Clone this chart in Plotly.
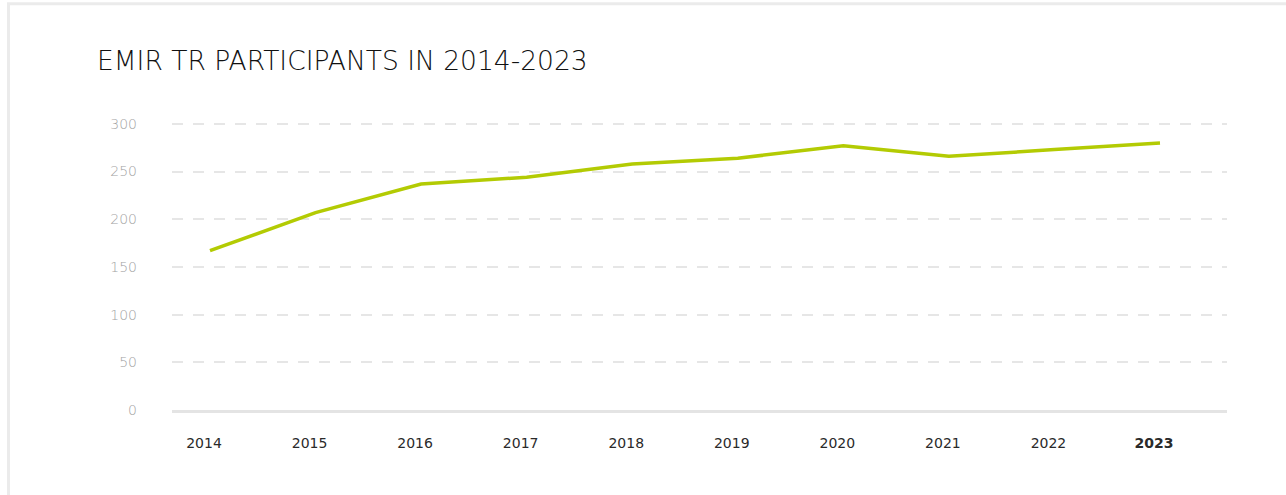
"""
EMIR TR 参与者数量折线图（2014-2023）
"""

import plotly.graph_objects as go

# 数据
years = [2014, 2015, 2016, 2017, 2018, 2019, 2020, 2021, 2022, 2023]
participants = [167, 207, 237, 244, 258, 264, 277, 266, 273, 280]
year_labels = ["2014", "2015", "2016", "2017", "2018", "2019", "2020", "2021", "2022", "<b>2023</b>"]
y_ticks = [0, 50, 100, 150, 200, 250, 300]

W, H = 1286, 495
# 0 和 300 的像素位置；上沿多留一点，保证 300 的网格线能画出来
PPU = (410 - 124) / 300
Y_MAX = 303
L, R = 172, 1227
B = 410
T = B - Y_MAX * PPU

fig = go.Figure()

fig.add_trace(
    go.Scatter(
        x=years,
        y=participants,
        mode="lines",
        line=dict(color="#b3cb03", width=3.5),
        hoverinfo="x+y",
        showlegend=False,
    )
)

# 卡片边框（左、上）
fig.add_shape(
    type="rect",
    xref="paper",
    yref="paper",
    x0=(8.5 - L) / (R - L),
    x1=(W + 20 - L) / (R - L),
    y0=(B - (H + 20)) / (B - T),
    y1=(B - 4) / (B - T),
    line=dict(color="#ebebeb", width=3),
    fillcolor="rgba(0,0,0,0)",
    layer="below",
)

fig.update_layout(
    width=W,
    height=H,
    margin=dict(l=L, r=W - R, t=T, b=H - B),
    paper_bgcolor="white",
    plot_bgcolor="white",
    font=dict(family="DejaVu Sans", color="#222"),
    title=dict(
        text="EMIR TR PARTICIPANTS IN 2014-2023",
        x=97 / W,
        xref="container",
        xanchor="left",
        y=1 - 61 / H,
        yref="container",
        yanchor="middle",
        font=dict(family="DejaVu Sans", size=26.5, color="#111", weight=200),
    ),
    xaxis=dict(
        tickmode="array",
        tickvals=years,
        ticktext=year_labels,
        range=[2014 - 38 / 105.56, 2023 + 67 / 105.56],
        showgrid=False,
        zeroline=False,
        showline=True,
        linecolor="#e4e4e4",
        linewidth=3,
        ticks="",
        ticklabelstandoff=18,
        ticklabelshift=-6,
        tickfont=dict(size=14, color="#2a2a2a"),
        fixedrange=True,
    ),
    yaxis=dict(
        tickmode="array",
        tickvals=y_ticks,
        range=[0, Y_MAX],
        showgrid=True,
        gridcolor="#e6e6e6",
        gridwidth=1.5,
        griddash="11px,10px",
        zeroline=False,
        showline=False,
        ticks="",
        ticklabelstandoff=34,
        tickfont=dict(size=14, color="#a3a3a3", weight=300),
        fixedrange=True,
    ),
)

# 去掉页面 body 默认的 8px 外边距
fig.write_html(
    "out.html",
    config={"displayModeBar": False},
    post_script="document.body.style.margin='0';",
)
